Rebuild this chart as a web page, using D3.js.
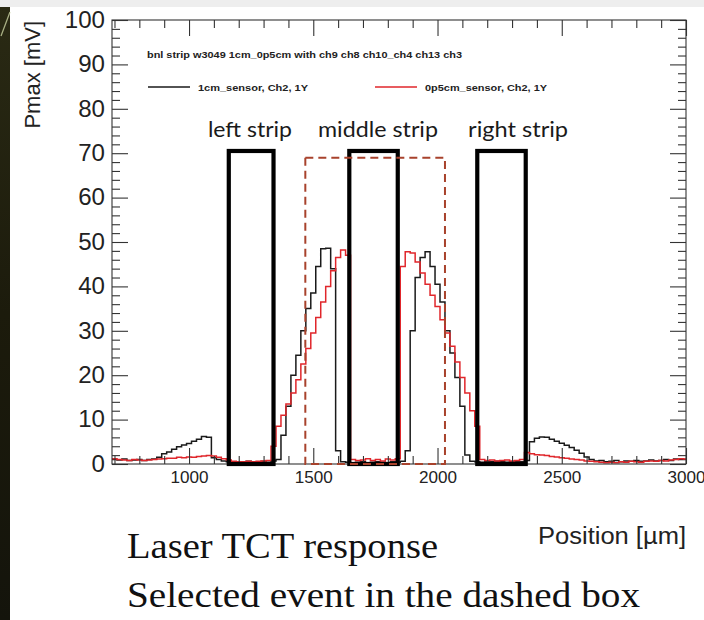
<!DOCTYPE html>
<html>
<head>
<meta charset="utf-8">
<script src="https://cdn.jsdelivr.net/npm/d3@7"></script>
<style>
  body { margin: 0; background: #ffffff; }
  svg { display: block; }
</style>
</head>
<body>
<svg id="chart" width="704" height="620"></svg>
<script>
// Histogram binning of the laser scan (position in µm)
const binStart = 690;
const binWidth = 20;

// Pmax [mV] per bin, 1 cm sensor (black)
const sensor1cm = [
  1.0, 0.9, 1.1, 0.8, 0.9, 1.0, 0.8, 1.0, 1.1, 1.5,      // 690-870
  2.3, 2.7, 3.3, 3.9, 4.3, 4.6, 5.1, 5.6, 6.2, 6.0,      // 890-1070
  1.4, 1.0, 0.7, 0.5, 0.4, 0.5, 0.5, 0.6, 0.5, 0.5,      // 1090-1270
  0.6, 0.4, 0.7, 1.0, 6.5, 13, 20, 24.5, 30, 35,         // 1290-1470
  38.5, 44.5, 48.5, 48.6, 44, 3, 0.5, 0.4, 0.3, 0.4,     // 1490-1670
  0.5, 0.3, 0.4, 0.5, 0.4, 0.3, 0.5, 0.4, 0.6, 3,        // 1690-1870
  30, 42, 46.5, 47.8, 44.5, 40.5, 36.5, 30, 25, 19.5,    // 1890-2070
  13, 2, 0.6, 0.5, 0.4, 0.5, 0.5, 0.6, 0.5, 0.4,         // 2090-2270
  0.5, 0.6, 0.5, 0.8, 5.0, 5.8, 6.1, 6.0, 5.6, 5.1,      // 2290-2470
  4.7, 4.2, 3.7, 3.1, 2.4, 1.6, 1.0, 0.7, 0.8, 0.5,      // 2490-2670
  0.6, 0.8, 0.5, 0.7, 0.6, 0.8, 0.6, 0.7, 0.9, 0.7,      // 2690-2870
  0.8, 1.0, 0.8, 1.1, 1.0, 1.0                           // 2890-2990
];

// Pmax [mV] per bin, 0.5 cm sensor (red)
const sensor0p5cm = [
  1.2, 1.0, 0.9, 0.8, 1.0, 0.9, 0.8, 0.9, 1.0, 1.1,      // 690-870
  1.2, 1.3, 1.3, 1.5, 1.4, 1.6, 1.5, 1.7, 1.8, 1.9,      // 890-1070
  1.8, 1.5, 1.2, 0.9, 0.6, 0.5, 0.5, 0.6, 0.5, 0.6,      // 1090-1270
  0.7, 0.8, 4.0, 8.5, 11, 13.5, 16, 19, 22.5, 26,        // 1290-1470
  29.5, 33, 36.5, 40, 43.5, 46.5, 48.2, 47, 1.0, 0.8,    // 1490-1670
  0.9, 1.2, 0.8, 1.0, 0.7, 1.1, 0.9, 1.2, 44.5, 47.8,    // 1690-1870
  47.5, 45.5, 43, 40.5, 38, 35.5, 32.5, 29.5, 26.5, 23,  // 1890-2070
  19.5, 16, 12, 8.5, 1.0, 0.8, 0.9, 0.7, 0.8, 0.9,       // 2090-2270
  0.7, 0.8, 1.0, 2.6, 2.3, 2.1, 2.0, 1.9, 1.7, 1.6,      // 2290-2470
  1.4, 1.3, 1.1, 1.0, 0.9, 0.7, 0.6, 0.5, 0.4, 0.3,      // 2490-2670
  0.4, 0.3, 0.5, 0.4, 0.6, 0.5, 0.4, 0.6, 0.7, 0.6,      // 2690-2870
  0.8, 0.7, 0.9, 1.0, 1.2, 1.1                           // 2890-2990
];

// Axis ticks
const xMajorTicks = [1000, 1500, 2000, 2500, 3000];
const xMinorTicks = [700, 800, 900, 1100, 1200, 1300, 1400, 1600, 1700, 1800, 1900,
                     2100, 2200, 2300, 2400, 2600, 2700, 2800, 2900];
const yMajorTicks = [0, 10, 20, 30, 40, 50, 60, 70, 80, 90, 100];
const yMinorTicks = [2, 4, 6, 8, 12, 14, 16, 18, 22, 24, 26, 28, 32, 34, 36, 38,
                     42, 44, 46, 48, 52, 54, 56, 58, 62, 64, 66, 68, 72, 74, 76, 78,
                     82, 84, 86, 88, 92, 94, 96, 98];

// Strip regions (µm) and where their headings begin
const stripNames = ["left strip", "middle strip", "right strip"];
const stripFrom = [1160, 1645, 2160];
const stripTo = [1340, 1840, 2355];
const stripTop = 70.5;
const stripLabelStart = [1076, 1519, 2123];

// Event-selection window
const selFrom = 1468, selTo = 2030, selTop = 69;

const titleText = "bnl strip w3049 1cm_0p5cm with ch9 ch8 ch10_ch4 ch13 ch3";
const legendNames = ["1cm_sensor, Ch2, 1Y", "0p5cm_sensor, Ch2, 1Y"];
const seriesColors = ["#1a1a1a", "#e0262b"];

const svg = d3.select("#chart");

// slide background pieces
svg.append("rect").attr("x", 0).attr("y", 0).attr("width", 704).attr("height", 7).attr("fill", "#eeeeee");
const defs = svg.append("defs");
const edgeGrad = defs.append("linearGradient")
  .attr("id", "edge").attr("x1", 0).attr("y1", 0).attr("x2", 0).attr("y2", 1);
edgeGrad.append("stop").attr("offset", 0).attr("stop-color", "#2a2a14");
edgeGrad.append("stop").attr("offset", 0.5).attr("stop-color", "#1c1b0c");
edgeGrad.append("stop").attr("offset", 1).attr("stop-color", "#14140c");
svg.append("rect").attr("x", 0).attr("y", 7).attr("width", 10).attr("height", 613).attr("fill", "url(#edge)");
svg.append("line").attr("x1", 10).attr("y1", 12).attr("x2", 1).attr("y2", 36)
  .attr("stroke", "#c9d3a2").attr("stroke-width", 1.3).attr("opacity", 0.8);

const pL = 112, pR = 686, pT = 20, pB = 464;
const x = d3.scaleLinear().domain([690, 3000]).range([pL, pR]);
const y = d3.scaleLinear().domain([0, 100]).range([pB, pT]);

defs.append("clipPath").attr("id", "plotclip")
  .append("rect").attr("x", pL).attr("y", pT).attr("width", pR - pL).attr("height", pB - pT);

// histogram outlines
function histPoints(vals) {
  const pts = vals.map((v, i) => [binStart + i * binWidth, v]);
  pts.push([binStart + vals.length * binWidth, vals[vals.length - 1]]);
  return pts;
}
const stepLine = d3.line().x(d => x(d[0])).y(d => y(d[1])).curve(d3.curveStepAfter);
const plot = svg.append("g").attr("clip-path", "url(#plotclip)");
[sensor1cm, sensor0p5cm].forEach((vals, k) => {
  plot.append("path").attr("d", stepLine(histPoints(vals)))
    .attr("fill", "none").attr("stroke", seriesColors[k])
    .attr("stroke-width", 1.5).attr("stroke-linejoin", "miter");
});

// frame and ticks on all four sides
const axisColor = "#333333";
function styleAxis(g) {
  g.select(".domain").remove();
  g.selectAll(".tick line").attr("stroke", axisColor).attr("stroke-width", 1.1);
  return g;
}
svg.append("rect").attr("x", pL).attr("y", pT).attr("width", pR - pL).attr("height", pB - pT)
  .attr("fill", "none").attr("stroke", axisColor).attr("stroke-width", 1.1);

const gxb = styleAxis(svg.append("g").attr("transform", `translate(0,${pB})`)
  .call(d3.axisBottom(x).tickValues(xMajorTicks).tickSize(-16).tickPadding(7).tickFormat(d3.format("d"))));
gxb.selectAll("text").attr("font-family", "Liberation Sans, Arial, sans-serif")
  .attr("font-size", 17).attr("fill", "#222").attr("textLength", 38).attr("lengthAdjust", "spacingAndGlyphs");
styleAxis(svg.append("g").attr("transform", `translate(0,${pB})`)
  .call(d3.axisBottom(x).tickValues(xMinorTicks).tickSize(-8).tickFormat("")));
styleAxis(svg.append("g").attr("transform", `translate(0,${pT})`)
  .call(d3.axisTop(x).tickValues(xMajorTicks).tickSize(-16).tickFormat("")));
styleAxis(svg.append("g").attr("transform", `translate(0,${pT})`)
  .call(d3.axisTop(x).tickValues(xMinorTicks).tickSize(-8).tickFormat("")));

const gyl = styleAxis(svg.append("g").attr("transform", `translate(${pL},0)`)
  .call(d3.axisLeft(y).tickValues(yMajorTicks).tickSize(-16).tickPadding(7).tickFormat(d3.format("d"))));
gyl.selectAll("text").attr("font-family", "Liberation Sans, Arial, sans-serif")
  .attr("font-size", 23).attr("fill", "#222")
  .attr("textLength", d => String(d).length * 13.4).attr("lengthAdjust", "spacingAndGlyphs");
styleAxis(svg.append("g").attr("transform", `translate(${pL},0)`)
  .call(d3.axisLeft(y).tickValues(yMinorTicks).tickSize(-8).tickFormat("")));
styleAxis(svg.append("g").attr("transform", `translate(${pR},0)`)
  .call(d3.axisRight(y).tickValues(yMajorTicks).tickSize(-16).tickFormat("")));
styleAxis(svg.append("g").attr("transform", `translate(${pR},0)`)
  .call(d3.axisRight(y).tickValues(yMinorTicks).tickSize(-8).tickFormat("")));

// axis titles
svg.append("text").attr("transform", `translate(40,${pT + 1}) rotate(-90)`)
  .attr("text-anchor", "end").attr("font-family", "Liberation Sans, Arial, sans-serif")
  .attr("font-size", 22).attr("fill", "#222").text("Pmax [mV]");
svg.append("text").attr("x", pR).attr("y", 544)
  .attr("text-anchor", "end").attr("font-family", "Liberation Sans, Arial, sans-serif")
  .attr("font-size", 23).attr("fill", "#222")
  .attr("textLength", 148).attr("lengthAdjust", "spacingAndGlyphs").text("Position [\u00b5m]");

// plot title and legend
svg.append("text").attr("x", 147).attr("y", 57.5)
  .attr("font-family", "Liberation Sans, Arial, sans-serif").attr("font-weight", "bold")
  .attr("font-size", 9.5).attr("fill", "#222")
  .attr("textLength", 315).attr("lengthAdjust", "spacingAndGlyphs").text(titleText);
const legendX = [148, 375], legendTextX = [198, 425], legendW = [110, 122];
legendNames.forEach((name, k) => {
  svg.append("line").attr("x1", legendX[k]).attr("x2", legendX[k] + 42).attr("y1", 87).attr("y2", 87)
    .attr("stroke", seriesColors[k]).attr("stroke-width", 1.5);
  svg.append("text").attr("x", legendTextX[k]).attr("y", 90.5)
    .attr("font-family", "Liberation Sans, Arial, sans-serif").attr("font-weight", "bold")
    .attr("font-size", 9.5).attr("fill", "#222")
    .attr("textLength", legendW[k]).attr("lengthAdjust", "spacingAndGlyphs").text(name);
});

// strip outlines with headings
const labelW = [84, 120, 100];
stripNames.forEach((name, k) => {
  svg.append("rect")
    .attr("x", x(stripFrom[k])).attr("y", y(stripTop))
    .attr("width", x(stripTo[k]) - x(stripFrom[k])).attr("height", y(0) - y(stripTop))
    .attr("fill", "none").attr("stroke", "#000").attr("stroke-width", 4.2);
  svg.append("text").attr("x", x(stripLabelStart[k])).attr("y", 137)
    .attr("font-family", "Lato, Open Sans, sans-serif").attr("font-size", 21).attr("fill", "#1a1a1a")
    .attr("textLength", labelW[k]).attr("lengthAdjust", "spacingAndGlyphs").text(name);
});

// dashed selection window
svg.append("rect")
  .attr("x", x(selFrom)).attr("y", y(selTop))
  .attr("width", x(selTo) - x(selFrom)).attr("height", y(0) - y(selTop))
  .attr("fill", "none").attr("stroke", "#a8422c").attr("stroke-width", 2)
  .attr("stroke-dasharray", "8,5");

// caption
svg.append("text").attr("x", 127).attr("y", 558)
  .attr("font-family", "Liberation Serif, Times New Roman, serif").attr("font-size", 36).attr("fill", "#111")
  .attr("textLength", 311).attr("lengthAdjust", "spacingAndGlyphs").text("Laser TCT response");
svg.append("text").attr("x", 127).attr("y", 607)
  .attr("font-family", "Liberation Serif, Times New Roman, serif").attr("font-size", 36).attr("fill", "#111")
  .attr("textLength", 513).attr("lengthAdjust", "spacingAndGlyphs").text("Selected event in the dashed box");
</script>
</body>
</html>
